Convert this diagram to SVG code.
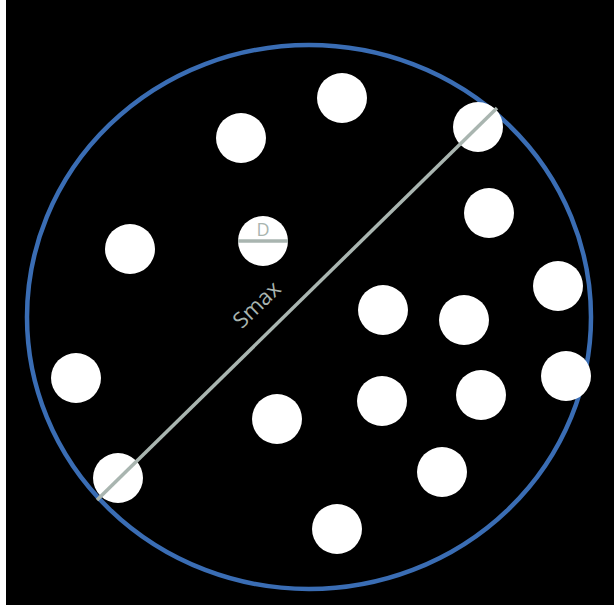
<svg xmlns="http://www.w3.org/2000/svg" width="614" height="605" viewBox="0 0 614 605">
<style>
.dot{fill:#ffffff}
.gl{stroke:#a9b5b0;stroke-width:3.5;fill:none}
.lbl{fill:#a9b5b0;font-family:"Open Sans","DejaVu Sans",sans-serif}
</style>
<rect x="0" y="0" width="614" height="605" fill="#ffffff"/>
<rect x="6" y="0" width="608" height="605" fill="#000000"/>
<g id="boundary"><ellipse cx="309" cy="317" rx="282" ry="272" fill="none" stroke="#3a6db4" stroke-width="4.5"/></g>
<g id="particles">
<circle id="p1" class="dot" cx="342" cy="98" r="25"/>
<circle id="p2" class="dot" cx="241" cy="138" r="25"/>
<circle id="p3" class="dot" cx="478" cy="127" r="25"/>
<circle id="p4" class="dot" cx="489" cy="213" r="25"/>
<circle id="p5" class="dot" cx="130" cy="249" r="25"/>
<circle id="p6" class="dot" cx="263" cy="241" r="25"/>
<circle id="p7" class="dot" cx="558" cy="286" r="25"/>
<circle id="p8" class="dot" cx="383" cy="310" r="25"/>
<circle id="p9" class="dot" cx="464" cy="320" r="25"/>
<circle id="p10" class="dot" cx="76" cy="378" r="25"/>
<circle id="p11" class="dot" cx="566" cy="376" r="25"/>
<circle id="p12" class="dot" cx="382" cy="401" r="25"/>
<circle id="p13" class="dot" cx="481" cy="395" r="25"/>
<circle id="p14" class="dot" cx="277" cy="419" r="25"/>
<circle id="p15" class="dot" cx="442" cy="472" r="25"/>
<circle id="p16" class="dot" cx="118" cy="478" r="25"/>
<circle id="p17" class="dot" cx="337" cy="529" r="25"/>
</g>
<g id="connectors">
<line class="gl" x1="97" y1="500" x2="497" y2="108"/>
<line class="gl" x1="238" y1="241" x2="288" y2="241"/>
</g>
<g id="labels">
<text class="lbl" x="263" y="236" font-size="18" text-anchor="middle">D</text>
<text class="lbl" x="262" y="310" font-size="22" text-anchor="middle" transform="rotate(-44 262 310)">Smax</text>
</g>
</svg>
